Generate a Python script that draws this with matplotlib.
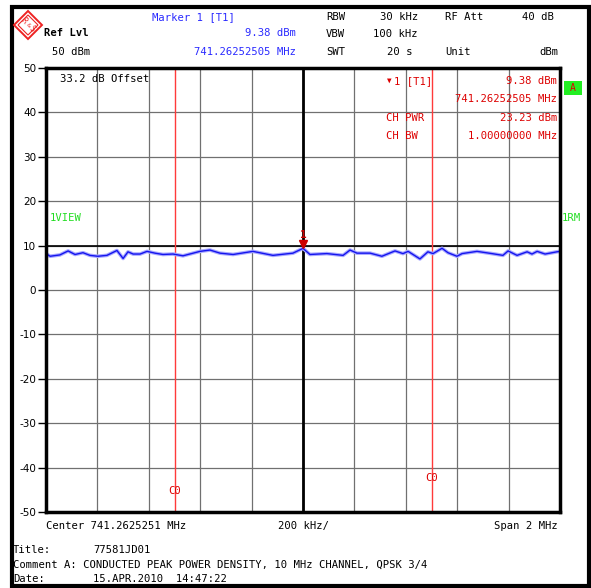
import matplotlib
matplotlib.use("Agg")
import matplotlib.pyplot as plt
from matplotlib.patches import Rectangle, Polygon

W, H = 591, 588

# trace: frequency offset from center (MHz) and level (dBm)
freq_offset = [-1.000, -0.984, -0.946, -0.914, -0.887, -0.856, -0.829, -0.798,
               -0.763, -0.724, -0.700, -0.681, -0.661, -0.634, -0.607, -0.576,
               -0.545, -0.506, -0.467, -0.401, -0.362, -0.323, -0.272, -0.195,
               -0.117, -0.039, 0.000, 0.027, 0.093, 0.156, 0.183, 0.210, 0.261,
               0.307, 0.358, 0.389, 0.409, 0.455, 0.486, 0.506, 0.541, 0.564,
               0.599, 0.619, 0.677, 0.735, 0.778, 0.798, 0.833, 0.872, 0.891,
               0.911, 0.942, 0.988, 1.000]
level_dbm = [8.2, 7.6, 7.9, 8.8, 8.0, 8.4, 7.8, 7.6,
             7.8, 8.9, 7.1, 8.6, 8.1, 8.1, 8.7, 8.3,
             8.0, 8.1, 7.7, 8.7, 9.0, 8.3, 8.0, 8.7,
             7.8, 8.3, 9.38, 8.0, 8.2, 7.8, 9.0, 8.3, 8.3,
             7.6, 8.8, 8.2, 8.7, 7.0, 8.6, 8.2, 9.4, 8.4,
             7.6, 8.2, 8.7, 8.2, 7.8, 8.8, 7.8, 8.6, 8.1,
             8.7, 8.1, 8.6, 8.7]

y_ticks = [50, 40, 30, 20, 10, 0, -10, -20, -30, -40, -50]
x_grid = [-1.0, -0.8, -0.6, -0.4, -0.2, 0.0, 0.2, 0.4, 0.6, 0.8, 1.0]
channel_edges = [-0.5, 0.5]
marker_freq, marker_level = 0.0, 9.38

MONO = "DejaVu Sans Mono"
FS = 7.6
BLUE = "#2a2aff"
RED = "#dd0000"
GREEN = "#22dd22"


def fx(x):
    return x / W


def fy(y):
    return 1 - y / H


def ptext(x, y, s, **kw):
    kw.setdefault("fontsize", FS)
    kw.setdefault("family", MONO)
    kw.setdefault("va", "center")
    fig.text(fx(x), fy(y), s, **kw)


fig = plt.figure(figsize=(W / 100, H / 100), dpi=100)
fig.patch.set_facecolor("white")

# outer frame
fig.patches.append(Rectangle((fx(12), fy(586)), fx(589) - fx(12), fy(7) - fy(586),
                             transform=fig.transFigure, fill=False, lw=3,
                             edgecolor="black"))

ax = fig.add_axes([fx(46), fy(512), fx(560) - fx(46), fy(68) - fy(512)])
ax.set_xlim(-1, 1)
ax.set_ylim(-50, 50)
ax.set_xticks(x_grid)
ax.set_yticks(y_ticks)
ax.set_xticklabels([])
ax.set_yticklabels([str(v) for v in y_ticks], fontsize=7.5)
ax.tick_params(axis="x", length=0)
ax.tick_params(axis="y", length=6, width=1, pad=1)
ax.grid(True, color="#707070", lw=0.9)
for s in ax.spines.values():
    s.set_linewidth(2.5)

ax.axvline(0, color="black", lw=2)
ax.axhline(10, color="black", lw=1.2)
for e in channel_edges:
    ax.axvline(e, color="#ff3a3a", lw=1)

ax.plot(freq_offset, level_dbm, color="#a8a8ff", lw=2.6, solid_joinstyle="round")
ax.plot(freq_offset, level_dbm, color="#1515ee", lw=1)

# marker
ax.plot([marker_freq], [marker_level + 1.0], marker="v", color="#cc0000",
        markersize=6, clip_on=False, zorder=5)
ax.text(marker_freq, marker_level + 3.0, "1", color="#cc0000", fontsize=8,
        weight="bold", ha="center", va="center", family=MONO, zorder=5)

# channel labels
ax.text(-0.5, -45.2, "C0", color=RED, fontsize=FS, family=MONO, ha="center", va="center")
ax.text(0.5, -42.3, "C0", color=RED, fontsize=FS, family=MONO, ha="center", va="center")

# logo
cx, cy, r = 28, 25, 14
fig.patches.append(Polygon([(fx(cx - r), fy(cy)), (fx(cx), fy(cy - r)),
                            (fx(cx + r), fy(cy)), (fx(cx), fy(cy + r))],
                           closed=True, transform=fig.transFigure, fill=False,
                           edgecolor="#ee2222", lw=1.4))
fig.patches.append(Polygon([(fx(cx - r + 4), fy(cy)), (fx(cx), fy(cy - r + 4)),
                            (fx(cx + r - 4), fy(cy)), (fx(cx), fy(cy + r - 4))],
                           closed=True, transform=fig.transFigure, fill=False,
                           edgecolor="#ee2222", lw=0.8))
ptext(cx - 4, cy - 4, "R", color="#ee2222", fontsize=5.5, ha="center", rotation=-45)
ptext(cx, cy, "&", color="#ee2222", fontsize=4.5, ha="center", rotation=-45)
ptext(cx + 4, cy + 4, "S", color="#ee2222", fontsize=5.5, ha="center", rotation=-45)

# header
ptext(152, 17, "Marker 1 [T1]", color=BLUE)
ptext(44, 33, "Ref Lvl", color="black", weight="bold")
ptext(296, 33, "9.38 dBm", color=BLUE, ha="right")
ptext(52, 52, "50 dBm", color="black")
ptext(296, 52, "741.26252505 MHz", color=BLUE, ha="right")

ptext(326, 17, "RBW")
ptext(418, 17, "30 kHz", ha="right")
ptext(445, 17, "RF Att")
ptext(554, 17, "40 dB", ha="right")
ptext(326, 34, "VBW")
ptext(418, 34, "100 kHz", ha="right")
ptext(326, 52, "SWT")
ptext(412, 52, "20 s", ha="right")
ptext(445, 52, "Unit")
ptext(558, 52, "dBm", ha="right")

# inside graticule
ptext(60, 79, "33.2 dB Offset")
ptext(50, 218, "1VIEW", color=GREEN)
ptext(562, 218, "1RM", color=GREEN)

ptext(387, 80, "\u25bc", color=RED, fontsize=5.5)
ptext(394, 81, "1 [T1]", color=RED)
ptext(557, 81, "9.38 dBm", color=RED, ha="right")
ptext(557, 99, "741.26252505 MHz", color=RED, ha="right")
ptext(386, 118, "CH PWR", color=RED)
ptext(557, 118, "23.23 dBm", color=RED, ha="right")
ptext(386, 136, "CH BW", color=RED)
ptext(557, 136, "1.00000000 MHz", color=RED, ha="right")

fig.patches.append(Rectangle((fx(564), fy(95)), fx(582) - fx(564), fy(81) - fy(95),
                             transform=fig.transFigure, facecolor="#22ee22",
                             edgecolor="none"))
ptext(573, 88, "A", color=RED, ha="center", fontsize=7)

# footer
ptext(46, 526, "Center 741.2625251 MHz")
ptext(304, 526, "200 kHz/", ha="center")
ptext(558, 526, "Span 2 MHz", ha="right")
ptext(13, 550, "Title:")
ptext(93, 550, "77581JD01")
ptext(13, 565, "Comment A: CONDUCTED PEAK POWER DENSITY, 10 MHz CHANNEL, QPSK 3/4")
ptext(13, 579, "Date:")
ptext(93, 579, "15.APR.2010  14:47:22")

fig.savefig("out.png", dpi=100)
